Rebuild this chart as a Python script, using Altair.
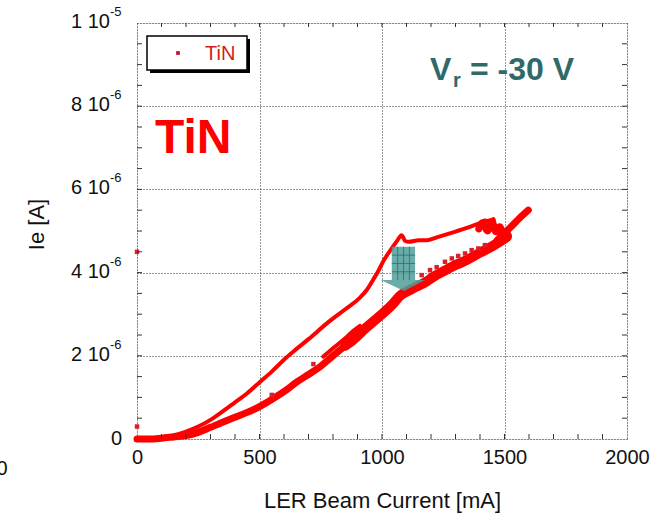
import altair as alt
import pandas as pd

# ---------------- data (x: LER beam current in mA, y: Ie in units of 1e-6 A) ----------------
upper_x = [0, 50, 100, 150, 200, 250, 300, 340, 400, 450, 500, 550, 610, 650, 700, 775, 850, 910,
           940, 965, 985, 1005, 1030, 1060, 1080, 1095, 1110, 1150, 1185, 1230, 1280, 1350, 1415, 1455]
upper_y = [0.0, 0.01, 0.04, 0.09, 0.18, 0.30, 0.46, 0.62, 0.88, 1.10, 1.36, 1.62, 1.96, 2.16, 2.40,
           2.78, 3.12, 3.40, 3.60, 3.84, 4.04, 4.27, 4.50, 4.75, 4.90, 4.76, 4.74, 4.78, 4.78, 4.86,
           4.95, 5.08, 5.22, 5.28]

lower_x = [0, 50, 100, 150, 200, 250, 300, 340, 400, 450, 500, 550, 610, 650, 700, 750, 800, 850,
           885, 930, 990, 1040, 1075, 1120, 1180, 1210, 1260, 1300, 1345, 1400, 1440, 1480, 1510]
lower_y = [0.0, 0.0, 0.02, 0.05, 0.08, 0.16, 0.28, 0.38, 0.52, 0.64, 0.78, 0.95, 1.18, 1.36, 1.55,
           1.75, 2.00, 2.24, 2.40, 2.65, 2.95, 3.22, 3.45, 3.60, 3.78, 3.90, 4.06, 4.18, 4.30, 4.48,
           4.60, 4.74, 4.86]

thick_x = [850, 885, 930, 990, 1040, 1075, 1120, 1180, 1210, 1260, 1300, 1345, 1400, 1440, 1480, 1510]
thick_y = [2.24, 2.40, 2.65, 2.95, 3.22, 3.45, 3.60, 3.78, 3.90, 4.06, 4.18, 4.30, 4.48, 4.60, 4.74, 4.86]

return_x = [760, 800, 850, 883, 910]
return_y = [1.98, 2.18, 2.42, 2.60, 2.72]

blob_x = [1395, 1410, 1430, 1450, 1465, 1480, 1500, 1515]
blob_y = [5.05, 5.20, 5.00, 5.18, 4.98, 5.10, 4.88, 4.90]

top_x = [1400, 1420, 1440, 1455, 1462, 1472, 1485, 1500, 1515]
top_y = [5.15, 5.25, 5.20, 5.28, 5.10, 5.00, 4.90, 4.85, 4.88]

tail_x = [1470, 1500, 1530, 1560, 1597]
tail_y = [4.78, 4.95, 5.12, 5.30, 5.50]

dots_x = [0, 0, 550, 720, 1162, 1196, 1223, 1257, 1285, 1311, 1339, 1366, 1393, 1420]
dots_y = [4.50, 0.30, 1.06, 1.80, 3.94, 4.06, 4.13, 4.26, 4.34, 4.40, 4.46, 4.54, 4.58, 4.66]

# arrow annotation (data coordinates)
arrow_body_x = [1040, 1135]
arrow_body_y = [4.62, 3.82]
arrow_head_x = [995, 1090, 1176]
arrow_head_y = [3.82, 3.56, 3.82]
hatch_vx = [1064, 1088, 1112]
hatch_hy = [4.42, 4.22, 4.02]

# axes
x_major = [0, 500, 1000, 1500, 2000]
x_minor = [100, 200, 300, 400, 500, 600, 700, 800, 900, 1000, 1100, 1200, 1300, 1400,
           1500, 1600, 1700, 1800, 1900]
y_major = [0, 2, 4, 6, 8, 10]
y_minor = [0.5, 1, 1.5, 2, 2.5, 3, 3.5, 4, 4.5, 5, 5.5, 6, 6.5, 7, 7.5, 8, 8.5, 9, 9.5]
y_lab_main = ["0", "2 10", "4 10", "6 10", "8 10", "1 10"]
y_lab_sup = ["", "-6", "-6", "-6", "-6", "-5"]

series_name = ["TiN"]
E = 1e-6
RED = "#ff0000"
FONT = "Liberation Sans"


def seg(name, xs, ys):
    return pd.DataFrame({"seg": name, "x": xs, "y": [v * E for v in ys], "o": list(range(len(xs)))})


xs = alt.Scale(domain=[0, 2000], nice=False, zero=False)
ys = alt.Scale(domain=[0, 1e-5], nice=False, zero=False)

x_axis = alt.Axis(
    values=x_major, format="d", labelFlush=False, ticks=False, domain=False, grid=True,
    gridDash=[1, 2], gridColor="#333", gridWidth=1, labelFont=FONT, labelFontSize=20,
    labelColor="#111", labelPadding=8,
    title="LER Beam Current [mA]", titleFont=FONT, titleFontSize=22, titleFontWeight="normal",
    titleColor="#111", titleY=68, titleBaseline="alphabetic")
y_axis = alt.Axis(
    values=[v * E for v in y_major], ticks=False, domain=False, labels=False, grid=True,
    gridDash=[1, 2], gridColor="#333", gridWidth=1,
    title="Ie [A]", titleFont=FONT, titleFontSize=22, titleFontWeight="normal", titleColor="#111",
    titleAngle=270, titleX=-94, titleY=201, titleBaseline="alphabetic")


def X(field="x:Q"):
    return alt.X(field, scale=xs, axis=x_axis)


def Y(field="y:Q"):
    return alt.Y(field, scale=ys, axis=y_axis)


thin = pd.concat([seg("upper", upper_x, upper_y), seg("ret", return_x, return_y),
                  seg("top", top_x, top_y)])
mid = pd.concat([seg("lower", lower_x, lower_y), seg("tail", tail_x, tail_y),
                 seg("blob", blob_x, blob_y)])
thick = seg("thick", thick_x, thick_y)

line_style = dict(color=RED, strokeCap="round", strokeJoin="round", interpolate="monotone")
thin_layer = alt.Chart(thin).mark_line(strokeWidth=4, **line_style).encode(
    x=X(), y=Y(), detail="seg:N", order="o:Q")
mid_layer = alt.Chart(mid).mark_line(strokeWidth=7, **line_style).encode(
    x=X(), y=Y(), detail="seg:N", order="o:Q")
thick_layer = alt.Chart(thick).mark_line(strokeWidth=10, **line_style).encode(
    x=X(), y=Y(), detail="seg:N", order="o:Q")

dots = alt.Chart(pd.DataFrame({"x": dots_x, "y": [v * E for v in dots_y]})).mark_square(
    color="#d8202c", size=20, opacity=1).encode(x=X(), y=Y())

# arrow
ARROW = "#4f9e99"
arrow_body = alt.Chart(pd.DataFrame({"x": [arrow_body_x[0]], "x2": [arrow_body_x[1]],
                                     "y": [arrow_body_y[0] * E], "y2": [arrow_body_y[1] * E]})).mark_rect(
    color=ARROW, opacity=0.85).encode(x=X(), x2="x2:Q", y=Y(), y2="y2:Q")
arrow_head = alt.Chart(pd.DataFrame({"x": arrow_head_x, "y": [v * E for v in arrow_head_y],
                                     "y2": [arrow_head_y[0] * E] * 3})).mark_area(
    color=ARROW, opacity=0.85).encode(x=X(), y=Y(), y2="y2:Q")
hatch_v = alt.Chart(pd.DataFrame({"x": hatch_vx, "y": [arrow_body_y[0] * E] * 3,
                                  "y2": [arrow_body_y[1] * E] * 3})).mark_rule(
    color="#2b6f6c", strokeWidth=0.8).encode(x=X(), y=Y(), y2="y2:Q")
hatch_h = alt.Chart(pd.DataFrame({"y": [v * E for v in hatch_hy], "x": [arrow_body_x[0]] * 3,
                                  "x2": [arrow_body_x[1]] * 3})).mark_rule(
    color="#2b6f6c", strokeWidth=0.8).encode(y=Y(), x=X(), x2="x2:Q")

# minor ticks (inward, on all four sides)
xt = pd.DataFrame({"x": x_minor})
yt = pd.DataFrame({"y": [v * E for v in y_minor]})
tick_style = dict(color="#333", strokeWidth=1)
xt_bot = alt.Chart(xt).mark_rule(**tick_style).encode(x=X(), y=alt.value(416), y2=alt.value(411))
xt_top = alt.Chart(xt).mark_rule(**tick_style).encode(x=X(), y=alt.value(0), y2=alt.value(4))
yt_left = alt.Chart(yt).mark_rule(**tick_style).encode(y=Y(), x=alt.value(0), x2=alt.value(5))
yt_right = alt.Chart(yt).mark_rule(**tick_style).encode(y=Y(), x=alt.value(490), x2=alt.value(485))

# y tick labels with superscripts
ylab = pd.DataFrame({"y": [v * E for v in y_major], "main": y_lab_main, "sup": y_lab_sup})
ylab_zero = alt.Chart(ylab).transform_filter("datum.sup == ''").mark_text(
    align="right", baseline="middle", font=FONT, fontSize=20, color="#111").encode(
    y=Y(), x=alt.value(-15), text="main:N")
ylab_main = alt.Chart(ylab).transform_filter("datum.sup != ''").mark_text(
    align="right", baseline="middle", font=FONT, fontSize=20, color="#111", dy=-1).encode(
    y=Y(), x=alt.value(-27), text="main:N")
ylab_sup = alt.Chart(ylab).transform_filter("datum.sup != ''").mark_text(
    align="left", baseline="middle", font=FONT, fontSize=13, color="#111", dy=-11).encode(
    y=Y(), x=alt.value(-27), text="sup:N")

# stray clipped label at the far left (from a neighbouring panel)
stray = alt.Chart(pd.DataFrame({"t": ["0"]})).mark_text(
    align="center", baseline="middle", font=FONT, fontSize=20, color="#111").encode(
    x=alt.value(-135), y=alt.value(446), text="t:N")

# legend box
name_df = pd.DataFrame({"t": series_name})
leg_shadow = alt.Chart(name_df).mark_rect(color="#000").encode(
    x=alt.value(13), x2=alt.value(113), y=alt.value(16), y2=alt.value(50))
leg_box = alt.Chart(name_df).mark_rect(fill="#ffffff", stroke="#000", strokeWidth=1.5).encode(
    x=alt.value(10), x2=alt.value(110), y=alt.value(13), y2=alt.value(47))
leg_sym = alt.Chart(name_df).mark_square(color="#c8102e", size=14, opacity=1).encode(
    x=alt.value(41), y=alt.value(30))
leg_txt = alt.Chart(name_df).mark_text(align="left", baseline="middle", font=FONT, fontSize=20,
                                       color="#d41c1c").encode(
    x=alt.value(68), y=alt.value(31), text="t:N")

# big label
big = alt.Chart(name_df).mark_text(align="left", baseline="alphabetic", font=FONT, fontSize=48,
                                   fontWeight="bold", color=RED).encode(
    x=alt.value(18), y=alt.value(130), text="t:N")

# V_r annotation
TEAL = "#2f6a69"
vr_df = pd.DataFrame({"a": ["V"], "b": ["r"], "c": ["= -30 V"]})
vr_a = alt.Chart(vr_df).mark_text(align="left", baseline="alphabetic", font=FONT, fontSize=32,
                                  fontWeight="bold", color=TEAL).encode(
    x=alt.value(293), y=alt.value(57), text="a:N")
vr_b = alt.Chart(vr_df).mark_text(align="left", baseline="alphabetic", font=FONT, fontSize=20,
                                  fontWeight="bold", color=TEAL).encode(
    x=alt.value(316), y=alt.value(64), text="b:N")
vr_c = alt.Chart(vr_df).mark_text(align="left", baseline="alphabetic", font=FONT, fontSize=32,
                                  fontWeight="bold", color=TEAL).encode(
    x=alt.value(333), y=alt.value(57), text="c:N")

chart = alt.layer(
    thin_layer, mid_layer, thick_layer, dots,
    arrow_body, arrow_head, hatch_v, hatch_h,
    xt_bot, xt_top, yt_left, yt_right,
    ylab_zero, ylab_main, ylab_sup, stray,
    leg_shadow, leg_box, leg_sym, leg_txt, big, vr_a, vr_b, vr_c,
).properties(
    width=490, height=416,
    autosize=alt.AutoSizeParams(type="none"),
    padding={"left": 137, "top": 23, "right": 36, "bottom": 75},
).configure_view(stroke="#555", strokeWidth=1.5).configure(background="white")

chart.save("out.html", embed_options={"renderer": "svg", "actions": False})
